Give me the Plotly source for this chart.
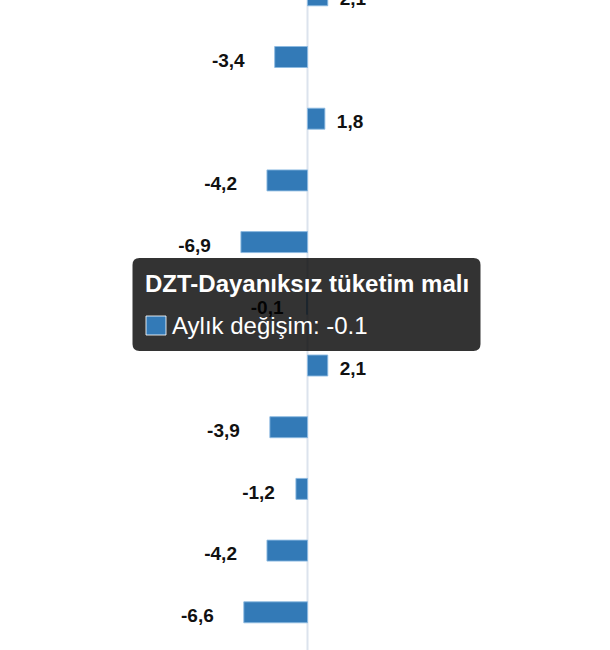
import plotly.graph_objects as go

# Monthly change values, top to bottom
values = [2.1, -3.4, 1.8, -4.2, -6.9, -0.1, 2.1, -3.9, -1.2, -4.2, -6.6]
rows = list(range(len(values)))
value_labels = [f"<b>{v:.1f}</b>".replace(".", ",") for v in values]

# Hover box content for the highlighted row
active_row = 5
tooltip_title = "DZT-Dayanıksız tüketim malı"
tooltip_series = "Aylık değişim"

W, H = 610, 650
BAR_COLOR = "#337ab7"
PX_PER_UNIT = 9.65
ZERO_PX = 307.5
ROW_PX = 61.7
FIRST_ROW_PX = -4.7

# label spacing (px) from bar end; short bars keep their labels a bit closer
NEG_GAP_PX = 30
POS_GAP_PX = 12
SHORT_BAR_GAP_PX = {5: 23, 8: 21}
LABEL_DROP_PX = 5

x_range = [-ZERO_PX / PX_PER_UNIT, (W - ZERO_PX) / PX_PER_UNIT]
y_top = -FIRST_ROW_PX / ROW_PX
y_bottom = (H - FIRST_ROW_PX) / ROW_PX

fig = go.Figure()

fig.add_trace(go.Bar(
    x=values,
    y=rows,
    orientation="h",
    width=0.34,
    marker=dict(color=BAR_COLOR, line=dict(color="rgba(140,185,225,0.9)", width=1)),
    hoverinfo="skip",
))

# value labels sit just outside the end of each bar
lab_x = []
for i, v in enumerate(values):
    if v < 0:
        lab_x.append(v - SHORT_BAR_GAP_PX.get(i, NEG_GAP_PX) / PX_PER_UNIT)
    else:
        lab_x.append(v + POS_GAP_PX / PX_PER_UNIT)
lab_y = [r + LABEL_DROP_PX / ROW_PX for r in rows]
lab_pos = ["middle left" if v < 0 else "middle right" for v in values]
fig.add_trace(go.Scatter(
    x=lab_x,
    y=lab_y,
    mode="text",
    text=value_labels,
    textposition=lab_pos,
    textfont=dict(family="Liberation Sans, Arial, sans-serif", size=19, color="#111111"),
    hoverinfo="skip",
))


def px(x):
    return x / W


def py(y):
    return 1 - y / H


shapes = []
# zero line
shapes.append(dict(
    type="line", xref="x", yref="paper", x0=0, x1=0, y0=0, y1=1,
    line=dict(color="#dce3ed", width=2), layer="below",
))

# rounded tooltip box
bx0, bx1, by0, by1, r = 132.5, 480.5, 258, 351, 7
rx, ry = r / W, r / H
X0, X1, Y0, Y1 = px(bx0), px(bx1), py(by0), py(by1)
path = (
    f"M {X0 + rx},{Y0} L {X1 - rx},{Y0} Q {X1},{Y0} {X1},{Y0 - ry} "
    f"L {X1},{Y1 + ry} Q {X1},{Y1} {X1 - rx},{Y1} "
    f"L {X0 + rx},{Y1} Q {X0},{Y1} {X0},{Y1 + ry} "
    f"L {X0},{Y0 - ry} Q {X0},{Y0} {X0 + rx},{Y0} Z"
)
shapes.append(dict(
    type="path", xref="paper", yref="paper", path=path,
    fillcolor="rgba(0,0,0,0.8)", line=dict(width=0), layer="above",
))
# colour swatch in tooltip
shapes.append(dict(
    type="rect", xref="paper", yref="paper",
    x0=px(146), x1=px(166), y0=py(316), y1=py(335),
    fillcolor=BAR_COLOR, line=dict(color="rgba(255,255,255,0.85)", width=1), layer="above",
))

annotations = [
    dict(
        xref="paper", yref="paper", x=px(143), y=py(283.5),
        xanchor="left", yanchor="middle", showarrow=False,
        text=f"<b>{tooltip_title}</b>",
        font=dict(family="Liberation Sans, Arial, sans-serif", size=24, color="white"),
    ),
    dict(
        xref="paper", yref="paper", x=px(170), y=py(325),
        xanchor="left", yanchor="middle", showarrow=False,
        text=f"{tooltip_series}: {values[active_row]}",
        font=dict(family="Liberation Sans, Arial, sans-serif", size=24, color="white"),
    ),
]

fig.update_layout(
    width=W, height=H,
    margin=dict(l=0, r=0, t=0, b=0),
    paper_bgcolor="white", plot_bgcolor="white",
    showlegend=False,
    xaxis=dict(range=x_range, visible=False, showgrid=False, zeroline=False, fixedrange=True),
    yaxis=dict(range=[y_bottom, y_top], visible=False, showgrid=False, zeroline=False, fixedrange=True),
    shapes=shapes,
    annotations=annotations,
    hovermode=False,
)

fig.write_html("out.html", config={"displayModeBar": False})
